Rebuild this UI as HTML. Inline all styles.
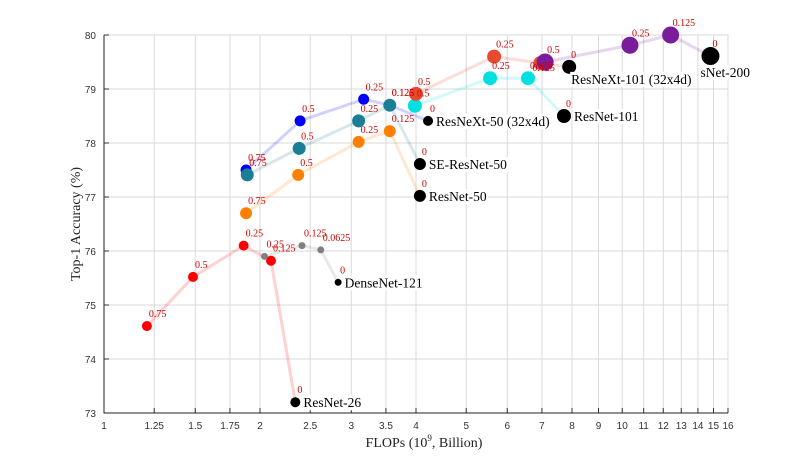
<!DOCTYPE html>
<html><head><meta charset="utf-8"><style>
body{margin:0;background:#fff}
svg{display:block}
</style></head><body>
<svg id="chart" width="801" height="464" xmlns="http://www.w3.org/2000/svg"></svg>
<script>
const xTicks=[1,1.25,1.5,1.75,2,2.5,3,3.5,4,5,6,7,8,9,10,11,12,13,14,15,16];
const xTickLabels=["1","1.25","1.5","1.75","2","2.5","3","3.5","4","5","6","7","8","9","10","11","12","13","14","15","16"];
const yTicks=[73,74,75,76,77,78,79,80];
const seriesNames=["resnet-26","densenet-121","resnet-50","resnext-50","se-resnet-50","resnet-101","resnext-101","resnet-200"];
const seriesColors=["#ff0000","#808080","#ff8000","#0000ff","#1a7f96","#00e0e0","#e84a30","#7b1c9a"];
const seriesRadius=[5,3.5,6,5.5,6.5,7,7,8.5];
const endRadius=[5,3.5,6,5,6,7,7,9];
const endLabels=["ResNet-26","DenseNet-121","ResNet-50","ResNeXt-50 (32x4d)","SE-ResNet-50","ResNet-101","ResNeXt-101 (32x4d)","sNet-200"];
const sFlops=[
[1.21,1.485,1.86,2.1,2.34],
[2.04,2.41,2.62,2.83],
[1.88,2.37,3.1,3.56,4.07],
[1.88,2.39,3.17,3.56,4.22],
[1.89,2.38,3.1,3.56,4.07],
[3.98,5.56,6.58,7.72],
[4.0,5.66,6.95,7.9],
[7.1,10.35,12.4,14.8]];
const sAcc=[
[74.61,75.52,76.1,75.82,73.2],
[75.9,76.1,76.02,75.42],
[76.7,77.41,78.02,78.22,77.02],
[77.5,78.41,78.81,78.7,78.41],
[77.41,77.9,78.41,78.7,77.61],
[78.69,79.2,79.2,78.5],
[78.91,79.6,79.48,79.41],
[79.5,79.81,80.0,79.61]];
const sLabels=[
["0.75","0.5","0.25","0.125","0"],
["0.25","0.125","0.0625","0"],
["0.75","0.5","0.25","0.125","0"],
["0.75","0.5","0.25","0.125","0"],
["0.75","0.5","0.25","0.125","0"],
["0.5","0.25","0.125","0"],
["0.5","0.25","0.125","0"],
["0.5","0.25","0.125","0"]];
const L=104,R=728,T=35,B=413;
const X=v=>L+(R-L)*Math.log2(v)/4;
const Y=v=>B-(B-T)*(v-73)/7;
const svg=document.getElementById('chart');
const NS="http://www.w3.org/2000/svg";
function mk(tag,attrs,parent){const e=document.createElementNS(NS,tag);for(const k in attrs)e.setAttribute(k,attrs[k]);(parent||svg).appendChild(e);return e;}
xTicks.forEach((t,i)=>{
 const g=mk('line',{x1:X(t),x2:X(t),y1:T,y2:B,stroke:'#d9d9d9','stroke-width':1});
 
 
 mk('line',{x1:X(t),x2:X(t),y1:B,y2:B-5,stroke:'#333'});
 const tx=mk('text',{x:X(t),y:B+16,'text-anchor':'middle','font-size':10,'font-family':'Liberation Sans, sans-serif',fill:'#333'});
 tx.textContent=xTickLabels[i];
 
 
});
yTicks.forEach(t=>{
 const g=mk('line',{x1:L,x2:R,y1:Y(t),y2:Y(t),stroke:'#d9d9d9','stroke-width':1});
 
 
 mk('line',{x1:L,x2:L+5,y1:Y(t),y2:Y(t),stroke:'#333'});
 const tx=mk('text',{x:L-8,y:Y(t)+4,'text-anchor':'end','font-size':10,'font-family':'Liberation Sans, sans-serif',fill:'#333'});
 tx.textContent=t;
 
 
});
const ax=mk('path',{d:`M${L},${T}V${B}H${R}`,fill:'none',stroke:'#222','stroke-width':1});


seriesNames.forEach((n,s)=>{
 const pts=sFlops[s].map((f,i)=>X(f)+','+Y(sAcc[s][i])).join(' ');
 const pl=mk('polyline',{points:pts,fill:'none',stroke:seriesColors[s],'stroke-opacity':0.18,'stroke-width':3});
 
 
});
seriesNames.forEach((n,s)=>{
 const last=sFlops[s].length-1;
 sFlops[s].forEach((f,i)=>{
  const isEnd=i===last;
  const c=mk('circle',{cx:X(f),cy:Y(sAcc[s][i]),r:isEnd?endRadius[s]:seriesRadius[s],fill:isEnd?'#000':seriesColors[s]});
  
  
 });
});
seriesNames.forEach((n,s)=>{
 sFlops[s].forEach((f,i)=>{
  let dx=2,dy=-9;
  if(s===6&&i===2){dx=-8;dy=8;}
  const t=mk('text',{x:X(f)+dx,y:Y(sAcc[s][i])+dy,'font-size':10,'font-family':'Liberation Serif, serif',fill:'#d00000'});
  t.textContent=sLabels[s][i];
  
  
 });
});
seriesNames.forEach((n,s)=>{
 const last=sFlops[s].length-1;
 let x=X(sFlops[s][last])+endRadius[s]+3, y=Y(sAcc[s][last])+5;
 if(s===6){x=X(sFlops[s][last])+2;y=Y(sAcc[s][last])+17;}
 if(s===7){x=X(sFlops[s][last])-10;y=Y(sAcc[s][last])+21;}
 const t=mk('text',{x:x,y:y,'font-size':13.5,'font-family':'Liberation Serif, serif',fill:'#000'});
 t.textContent=endLabels[s];
 const bb=t.getBBox();
 const bg=mk('rect',{x:bb.x-1,y:bb.y,width:bb.width+2,height:bb.height,fill:'#fff'});
 svg.insertBefore(bg,t);
 
 
 
 
});
const xt=mk('text',{x:(L+R)/2+8,y:447,'text-anchor':'middle','font-size':14,'font-family':'Liberation Serif, serif',fill:'#222'});
xt.innerHTML='FLOPs (10<tspan dy="-6" font-size="9">9</tspan><tspan dy="6">, Billion)</tspan>';


const yt=mk('text',{x:0,y:0,'text-anchor':'middle','font-size':14,'font-family':'Liberation Serif, serif',fill:'#222',transform:`translate(80,${(T+B)/2}) rotate(-90)`});
yt.textContent='Top-1 Accuracy (%)';


</script>
</body></html>
